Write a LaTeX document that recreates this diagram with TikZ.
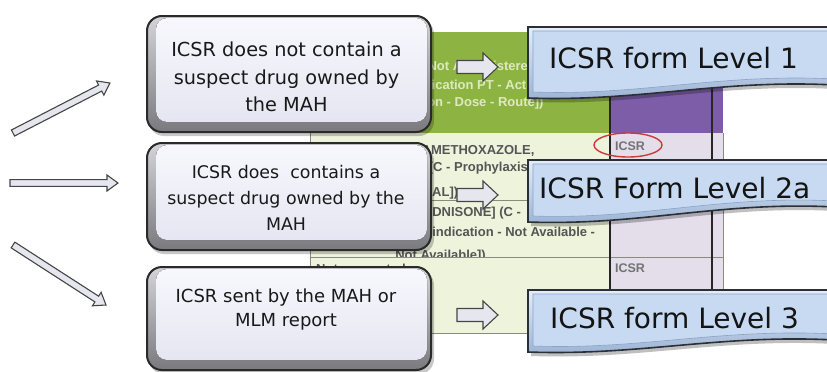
\documentclass[tikz,border=0pt]{standalone}
\usepackage{fontspec}
\setmainfont{DejaVu Sans}
\newfontfamily\tblfont{Liberation Sans}
\definecolor{tgreen}{HTML}{8DB443}
\definecolor{headtext}{HTML}{DDEABB}
\definecolor{tpurple}{HTML}{7D5DA8}
\definecolor{tlgreen}{HTML}{EEF3DC}
\definecolor{tlav}{HTML}{E3DEEA}
\definecolor{tline}{HTML}{8A8A80}
\definecolor{tdark}{HTML}{262626}
\definecolor{ttext}{HTML}{555555}
\definecolor{boxline}{HTML}{2A2A2A}
\definecolor{bevtop}{HTML}{D4D4D8}
\definecolor{bevbot}{HTML}{7A7A7E}
\definecolor{facetop}{HTML}{F7F7FD}
\definecolor{facebot}{HTML}{E6E6F2}
\definecolor{bline}{HTML}{2B2F36}
\definecolor{btop}{HTML}{E4EEFA}
\definecolor{bbot}{HTML}{9AB2D4}
\definecolor{bface}{HTML}{C7DAF2}
\definecolor{binner}{HTML}{8AA2C6}
\definecolor{arrfill}{HTML}{E6E6EF}
\definecolor{arrline}{HTML}{454545}
\definecolor{circred}{HTML}{CC3A3A}

\newcommand\gbox[5]{%
  \fill[black,opacity=.22,rounded corners=15pt] (#2-#4/2+2,#3-#5/2+3) rectangle (#2+#4/2+3,#3+#5/2+4);
  \node[boxouter, minimum width=#4pt, minimum height=#5pt] (#1) at (#2,#3) {};
  \fill[boxface, rounded corners=11pt] ([xshift=10pt,yshift=-3pt]#1.north west) rectangle ([xshift=-5pt,yshift=11pt]#1.south east);
}
\newcommand\banner[3]{%
  \fill[black,opacity=.25] (531,#1+4) -- (835,#1+4) -- (835,#1+#3+4) .. controls (720,#1+#3-2) and (640,#1+#2+8) .. (531,#1+#2+4) -- cycle;
  \path[draw=bline, line width=1.6pt, top color=btop, bottom color=bbot] (528,#1) -- (835,#1) -- (835,#1+#3) .. controls (720,#1+#3-6) and (640,#1+#2+4) .. (528,#1+#2) -- cycle;
  \path[fill=bface, draw=binner, line width=.6pt] (533,#1+4) -- (835,#1+4) -- (835,#1+#3-6) .. controls (720,#1+#3-12) and (640,#1+#2-2) .. (533,#1+#2-6) -- cycle;
}
\newcommand\midarrow[2]{%
  \coordinate (#1s) at (457,#2);
  \coordinate (#1e) at (498,#2);
  \draw[arrowst] (#1s) ++(0,-6.5) -- (483,#2-6.5) -- (483,#2-14) -- (#1e) -- (483,#2+14) -- (483,#2+6.5) -- (457,#2+6.5) -- cycle;
}
\newcommand\sidearrow[5]{% name, x, y, angle, length
  \begin{scope}[shift={(#2,#3)},rotate=#4]
    \coordinate (#1s) at (0,0);
    \coordinate (#1e) at (#5,0);
    \draw[arrowst] (0,-3.4) -- (#5-11,-3.4) -- (#5-11,-8) -- (#1e) -- (#5-11,8) -- (#5-11,3.4) -- (0,3.4) -- cycle;
  \end{scope}
}

\begin{document}
\begin{tikzpicture}[x=1pt,y=-1pt,
  boxouter/.style={draw=boxline, line width=2pt, rounded corners=15pt, top color=bevtop, bottom color=bevbot, inner sep=0pt},
  boxface/.style={top color=facetop, bottom color=facebot},
  arrowst/.style={draw=arrline, line width=1.1pt, fill=arrfill, line join=miter},
  boxtext/.style={anchor=base, inner sep=0pt, text=black!90},
  bantext/.style={anchor=base west, inner sep=0pt, text=black!92, font=\fontsize{28}{30}\selectfont},
  tbltext/.style={inner sep=0pt, text=ttext, font=\tblfont\bfseries\fontsize{13}{15}\selectfont},
  headt/.style={inner sep=0pt, text=headtext, font=\tblfont\bfseries\fontsize{13}{15}\selectfont},
  icsr/.style={inner sep=0pt, text=black!55, font=\tblfont\bfseries\fontsize{12.5}{14}\selectfont}
]
\useasboundingbox (0,0) rectangle (827,372);
\clip (0,0) rectangle (827,372);
\fill[white] (0,0) rectangle (827,372);

% ---- background table fragment ----
\fill[tgreen] (310,32) rectangle (610,133);
\fill[tpurple] (610,32) rectangle (723,133);
\fill[tlgreen] (310,133) rectangle (610,333);
\fill[tlav] (610,133) rectangle (723,300);
\node[headt, anchor=base west] (h1) at (423,70) {[Not Administered};
\node[headt, anchor=base west] (h2) at (412,89) {Indication PT - Action};
\node[headt, anchor=base west] (h3) at (389.5,106) {Duration - Dose - Route])};
\node[tbltext, anchor=base west] (r1) at (384,154) {[SULFAMETHOXAZOLE,};
\node[tbltext, anchor=base west] (r2) at (389,171) {[TMP] (C - Prophylaxis};
\node[tbltext, anchor=base west] (r3) at (404.6,196) {- ORAL])};
\node[tbltext, anchor=base west] (r4) at (401,216) {[PREDNISONE] (C -};
\node[tbltext, anchor=base west] (r5) at (370,236) {Unknown indication - Not Available -};
\begin{scope}
  \clip (300,240) rectangle (620,256);
  \node[tbltext, anchor=base east] (r6) at (486,259) {Not Available])};
\end{scope}
\node[tbltext, anchor=base west] (r7) at (316,273) {Not suspected};
\draw[tline, line width=.8pt] (310,133) -- (310,333) -- (610,333);
\draw[tline, line width=.8pt] (310,200) -- (723,200);
\draw[tline, line width=.8pt] (310,257) -- (723,257);
\draw[tline, line width=.6pt] (723,133) -- (723,300);
\draw[tdark, line width=2.2pt] (610,32) -- (610,300);
\draw[tdark, line width=2.2pt] (712,32) -- (712,300);
\node[icsr] (ic1) at (630,146) {ICSR};
\node[icsr] (ic2) at (630,268) {ICSR};
\draw[circred, line width=1.4pt] (ic1.center) ++(-2,-1) ellipse [x radius=34, y radius=12];

% ---- left rounded boxes ----
\gbox{b1}{289}{74}{284}{116}
\gbox{b2}{289}{196.5}{284}{107}
\gbox{b3}{289}{318.5}{284}{103}

\begin{scope}[font=\fontsize{19.3}{23}\selectfont]
\node[boxtext] (t11) at (286.5,56.5) {ICSR does not contain a};
\node[boxtext] (t12) at (286.5,84) {suspect drug owned by};
\node[boxtext] (t13) at (286.5,111.5) {the MAH};
\end{scope}
\begin{scope}[font=\fontsize{17.4}{21}\selectfont]
\node[boxtext] (t21) at (286,178.5) {ICSR does\ \ contains a};
\node[boxtext] (t22) at (286,204.3) {suspect drug owned by the};
\node[boxtext] (t23) at (286,230) {MAH};
\end{scope}
\begin{scope}[font=\fontsize{18}{21}\selectfont]
\node[boxtext] (t31) at (286,302.7) {ICSR sent by the MAH or};
\node[boxtext] (t32) at (286,326.7) {MLM report};
\end{scope}

% ---- left arrows ----
\sidearrow{la1}{13}{133}{27.27}{109.1}
\sidearrow{la2}{10}{183}{0}{108}
\sidearrow{la3}{13}{245}{-32.83}{110.7}

% ---- middle arrows ----
\midarrow{ma1}{67}
\midarrow{ma2}{195}
\midarrow{ma3}{315}

% ---- right banners ----
\banner{27}{71}{58}
\node[bantext] (n1) at (549,68) {ICSR form Level 1};
\banner{160}{62}{47}
\node[bantext] (n2) at (539,198) {ICSR Form Level 2a};
\banner{290}{62}{50}
\node[bantext] (n3) at (550,328) {ICSR form Level 3};
\end{tikzpicture}
\end{document}
